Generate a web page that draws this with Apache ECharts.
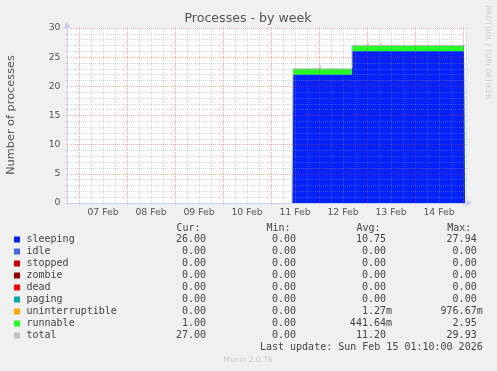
<!DOCTYPE html>
<html><head><meta charset="utf-8">
<script src="https://cdn.jsdelivr.net/npm/echarts@6/dist/echarts.min.js"></script>
<style>html,body{margin:0;padding:0;background:#f0f0f0;}#c{width:497px;height:371px;}</style>
</head><body><div id="c"></div>
<script>
// x values: hours since 06 Feb 00:00 (value holds from time[i] to time[i+1])
const times    = [130.5, 131, 140, 140.5, 144.5, 145, 160.5, 168.5, 169, 175, 175.5, 181.5, 182, 190, 190.5, 198.5, 199, 216.5, 217];
const sleeping = [0, 22, 21.8, 22, 22, 22, 26, 26, 26, 26, 26, 25.8, 26, 25.8, 26, 25.8, 26, 25.8, 25.8];
const runnable = [0, 1, 1.2, 1, 1, 1, 1, 1, 1, 1, 1, 1.2, 1, 1.2, 1, 1.2, 1, 1.2, 1.2];
const total    = [0, 23, 23, 23, 23.5, 23, 27, 27.4, 27, 27.4, 27, 27, 27, 27, 27, 27, 27, 27, 27];

const dayLabelHours = [36, 60, 84, 108, 132, 156, 180, 204];
const dayLabels = ['07 Feb', '08 Feb', '09 Feb', '10 Feb', '11 Feb', '12 Feb', '13 Feb', '14 Feb'];

const legendNames = ['sleeping', 'idle', 'stopped', 'zombie', 'dead', 'paging', 'uninterruptible', 'runnable', 'total'];
const curVals = ['26.00', '0.00', '0.00', '0.00', '0.00', '0.00', '0.00', '1.00', '27.00'];
const minVals = ['0.00', '0.00', '0.00', '0.00', '0.00', '0.00', '0.00', '0.00', '0.00'];
const avgVals = ['10.75', '0.00', '0.00', '0.00', '0.00', '0.00', '1.27m', '441.64m', '11.20'];
const maxVals = ['27.94', '0.00', '0.00', '0.00', '0.00', '0.00', '976.67m', '2.95', '29.93'];
const colHeaders = ['Cur:', 'Min:', 'Avg:', 'Max:'];
const lastUpdate = 'Last update: Sun Feb 15 01:10:00 2026';

const seriesColors = ['#0022ff', '#4169e1', '#cc0000', '#990000', '#ff0000', '#00aaaa', '#ffa500', '#22ff22', '#c0c0c0'];

const zip = (a, b) => a.map((t, i) => [t, b[i]]);
// stacked top of runnable on sleeping
const runnableTop = sleeping.map((s, i) => s + runnable[i]);

const GRID_MINOR = 'rgba(150,150,150,0.38)';
const GRID_MAJOR = 'rgba(235,50,50,0.42)';
const AXIS_COL = '#c8cff4';

const chart = echarts.init(document.getElementById('c'), null, {renderer: 'canvas'});

const graphics = [];
graphics.push({type: 'text', x: 248, y: 19, style: {text: 'Processes - by week', font: '12.6px "DejaVu Sans"', fill: '#555', align: 'center', verticalAlign: 'middle', textAlign: 'center', textVerticalAlign: 'middle'}});
graphics.push({type: 'text', x: 11, y: 115, rotation: Math.PI / 2, style: {text: 'Number of processes', font: '11.3px "DejaVu Sans"', fill: '#555', align: 'center', verticalAlign: 'middle', textAlign: 'center', textVerticalAlign: 'middle'}});
graphics.push({type: 'text', x: 487.5, y: 52.5, rotation: -Math.PI / 2, style: {text: 'RRDTOOL / TOBI OETIKER', font: '7.3px "DejaVu Sans"', fill: '#cfcfcf', align: 'center', verticalAlign: 'middle', textAlign: 'center', textVerticalAlign: 'middle'}});

const mono = '10px "DejaVu Sans Mono"';
const colRight = [212, 302, 392, 482.7];
colHeaders.forEach((h, j) => {
  graphics.push({type: 'text', x: colRight[j] - 35.5, y: 228.3, style: {text: h, font: mono, fill: '#444', align: 'left', verticalAlign: 'middle', textAlign: 'left', textVerticalAlign: 'middle'}});
});
const cols = [curVals, minVals, avgVals, maxVals];
legendNames.forEach((n, i) => {
  const yc = 239.5 + i * 12;
  graphics.push({type: 'rect', shape: {x: 14, y: yc - 3, width: 6, height: 6}, style: {fill: seriesColors[i]}});
  graphics.push({type: 'text', x: 26.5, y: yc, style: {text: n, font: mono, fill: '#444', align: 'left', verticalAlign: 'middle', textAlign: 'left', textVerticalAlign: 'middle'}});
  cols.forEach((arr, j) => {
    const v = arr[i];
    const txt = v.endsWith('m') ? v : v + ' ';
    graphics.push({type: 'text', x: colRight[j], y: yc, style: {text: txt, font: mono, fill: '#444', align: 'right', verticalAlign: 'middle', textAlign: 'right', textVerticalAlign: 'middle'}});
  });
});
graphics.push({type: 'text', x: 482.7, y: 347.7, style: {text: lastUpdate, font: mono, fill: '#444', align: 'right', verticalAlign: 'middle', textAlign: 'right', textVerticalAlign: 'middle'}});
graphics.push({type: 'text', x: 248, y: 360, style: {text: 'Munin 2.0.76', font: '7.5px "DejaVu Sans"', fill: '#c8c8c8', align: 'center', verticalAlign: 'middle', textAlign: 'center', textVerticalAlign: 'middle'}});

chart.setOption({
  animation: false,
  backgroundColor: '#f0f0f0',
  grid: {left: 67, right: 31, top: 28, bottom: 168, show: true, backgroundColor: '#ffffff', borderWidth: 0, containLabel: false},
  xAxis: {
    type: 'value', min: 18, max: 217.5, interval: 6, z: 10,
    axisLine: {show: true, onZero: false, lineStyle: {color: AXIS_COL, width: 1}, symbol: ['none', 'arrow'], symbolSize: [6, 7], symbolOffset: [0, 6]},
    axisTick: {show: true, length: 2, lineStyle: {color: '#d0d0d0'}},
    axisLabel: {
      color: '#555', fontSize: 9.3, fontFamily: 'DejaVu Sans', margin: 5, showMinLabel: true, showMaxLabel: true,
      formatter: v => { const k = dayLabelHours.indexOf(v); return k >= 0 ? dayLabels[k] : ''; }
    },
    splitLine: {show: true, lineStyle: {color: [GRID_MINOR, GRID_MAJOR, GRID_MINOR, GRID_MINOR], type: [1, 1], width: 1}}
  },
  yAxis: {
    type: 'value', min: 0, max: 30, interval: 1, z: 10,
    axisLine: {show: true, onZero: false, lineStyle: {color: AXIS_COL, width: 1}, symbol: ['none', 'arrow'], symbolSize: [6, 7], symbolOffset: [0, 6]},
    axisTick: {show: true, length: 2, lineStyle: {color: '#d0d0d0'}},
    axisLabel: {color: '#555', fontSize: 9.3, fontFamily: 'DejaVu Sans', margin: 6.5, formatter: v => (v % 5 === 0 ? String(v) : '')},
    splitLine: {show: true, lineStyle: {color: [GRID_MAJOR, GRID_MINOR, GRID_MINOR, GRID_MINOR, GRID_MINOR], type: [1, 1], width: 1}}
  },
  series: [
    {name: 'runnable', type: 'line', step: 'end', z: 2, data: zip(times, runnableTop), symbol: 'none', color: seriesColors[7],
     lineStyle: {width: 0}, areaStyle: {color: seriesColors[7], opacity: 1, origin: 'start'}},
    {name: 'sleeping', type: 'line', step: 'end', z: 3, data: zip(times, sleeping), symbol: 'none', color: seriesColors[0],
     lineStyle: {width: 0}, areaStyle: {color: seriesColors[0], opacity: 1, origin: 'start'}},
    {name: 'total', type: 'line', step: 'end', z: 4, data: zip(times, total), symbol: 'none', color: seriesColors[8],
     lineStyle: {width: 1, color: seriesColors[8]}}
  ],
  graphic: graphics
});
</script>
</body></html>
